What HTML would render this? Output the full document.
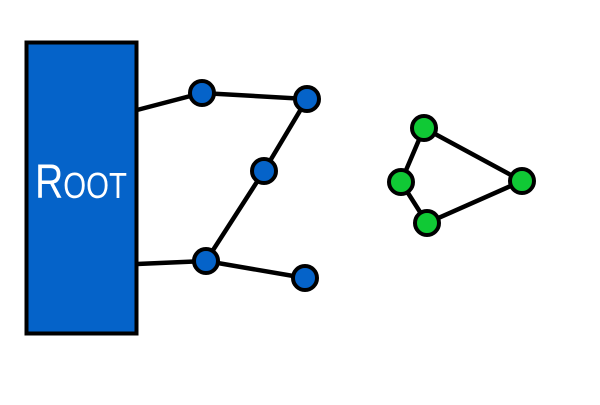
<!DOCTYPE html>
<html><head><style>body{margin:0;background:#fff}</style></head><body>
<svg width="600" height="400" xmlns="http://www.w3.org/2000/svg">
<rect x="26.5" y="42.5" width="110" height="291" fill="#0563c9" stroke="#000" stroke-width="4"/>
<text x="35" y="198" textLength="92" lengthAdjust="spacingAndGlyphs" fill="#fff" font-family="Liberation Sans, sans-serif" font-size="48"><tspan>R</tspan><tspan font-size="36">OOT</tspan></text>
<g stroke="#000" stroke-width="4.5" fill="none">
<path d="M137 110 L202 93 L307 99 L264 171 L206 261 L305 278 M137 264 L206 261"/>
<path d="M424 128 L401 182 L427 223 L522 181 Z"/>
</g>
<g stroke="#000" stroke-width="4" fill="#0563c9">
<circle cx="202" cy="93" r="12"/><circle cx="307" cy="99" r="12"/><circle cx="264" cy="171" r="12"/><circle cx="206" cy="261" r="12"/><circle cx="305" cy="278" r="12"/>
</g>
<g stroke="#000" stroke-width="4" fill="#10c935">
<circle cx="424" cy="128" r="12"/><circle cx="401" cy="182" r="12"/><circle cx="427" cy="223" r="12"/><circle cx="522" cy="181" r="12"/>
</g>
</svg>
</body></html>
